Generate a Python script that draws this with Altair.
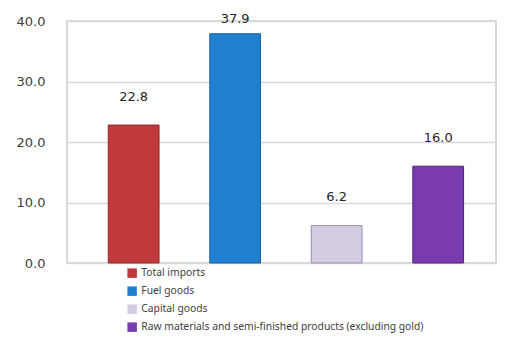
import altair as alt
import pandas as pd

categories = [
    "Total imports",
    "Fuel goods",
    "Capital goods",
    "Raw materials and semi-finished products (excluding gold)",
]
values = [22.8, 37.9, 6.2, 16.0]
colors = ["#c0393b", "#1f80cf", "#d3cbe2", "#7a3bb0"]
strokes = ["#8e2a2a", "#1560a0", "#9a90ab", "#4f2475"]
y_ticks = [0, 10, 20, 30, 40]

df = pd.DataFrame({"category": categories, "value": values})

x_enc = alt.X(
    "category:N",
    sort=categories,
    axis=None,
    scale=alt.Scale(paddingInner=0.5, paddingOuter=0.363, align=0.56),
)

bars = alt.Chart(df).mark_bar(strokeWidth=1).encode(
    x=x_enc,
    y=alt.Y(
        "value:Q",
        scale=alt.Scale(domain=[0, 40]),
        axis=alt.Axis(
            values=y_ticks,
            format=".1f",
            title=None,
            domain=False,
            ticks=False,
            tickSize=0,
            labelPadding=22,
            labelFont="DejaVu Sans",
            labelFontSize=13,
            labelColor="#404040",
            gridColor="#d9d9d9",
            gridWidth=1.5,
        ),
    ),
    color=alt.Color(
        "category:N",
        sort=categories,
        scale=alt.Scale(domain=categories, range=colors),
        legend=alt.Legend(
            title=None,
            orient="none",
            legendX=60,
            legendY=247,
            direction="vertical",
            symbolType="square",
            symbolSize=90,
            symbolStrokeWidth=0,
            labelFont="Noto Sans",
            labelFontSize=10.3,
            labelColor="#404040",
            rowPadding=7,
            labelLimit=400,
            labelOffset=4,
        ),
    ),
    stroke=alt.Stroke(
        "category:N",
        sort=categories,
        scale=alt.Scale(domain=categories, range=strokes),
        legend=None,
    ),
)

labels = alt.Chart(df).transform_calculate(
    ly="min(datum.value + 4.7, 40.35)"
).mark_text(
    font="DejaVu Sans", fontSize=13, color="#262626", baseline="middle"
).encode(
    x=x_enc,
    y=alt.Y("ly:Q"),
    text=alt.Text("value:Q", format=".1f"),
)

chart = (
    alt.layer(bars, labels)
    .properties(
        width=429,
        height=242,
        autosize=alt.AutoSizeParams(type="none"),
        padding={"left": 59, "top": 13, "right": 2, "bottom": 71},
        background="white",
    )
    .configure_view(stroke="#d9d9d9", strokeWidth=2)
)

chart.save("out.html", embed_options={"renderer": "svg", "actions": False})
